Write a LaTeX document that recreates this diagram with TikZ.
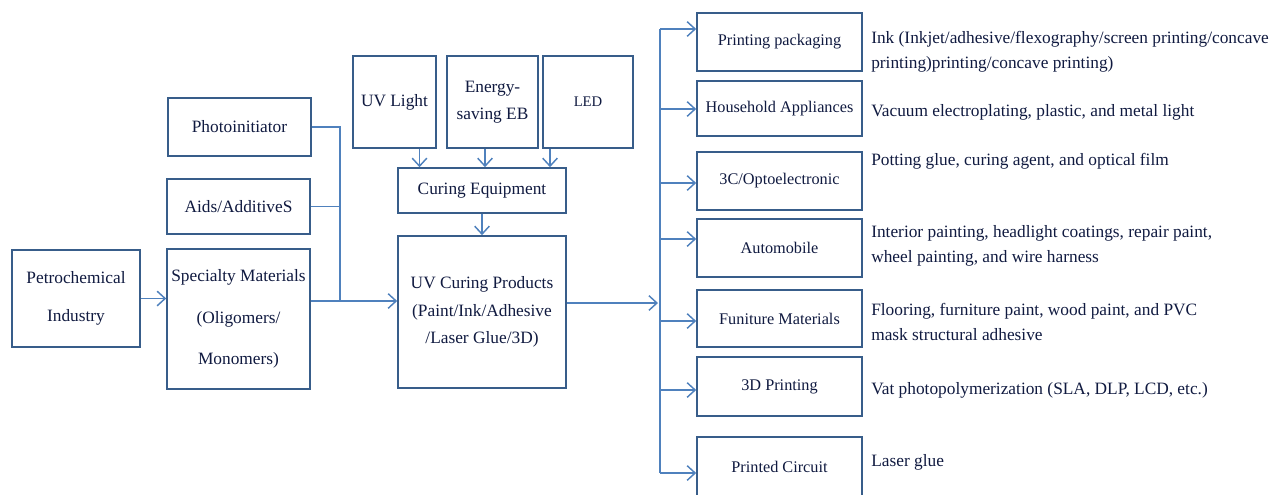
\documentclass[tikz,border=0pt]{standalone}
\usepackage{fontspec}
\setmainfont{Liberation Serif}
\usetikzlibrary{calc,arrows.meta}
\definecolor{boxEdge}{RGB}{56,93,138}
\definecolor{lineBlue}{RGB}{79,129,189}
\definecolor{inkNavy}{RGB}{16,26,64}

\begin{document}
\begin{tikzpicture}[x=0.75pt, y=-0.75pt, >={Straight Barb[length=6pt,width=11pt]},
  box/.style={draw=boxEdge, line width=1.2pt, fill=white, align=center, text=inkNavy,
     inner sep=2pt, font=\fontsize{13}{20.5}\selectfont},
  appbox/.style={box, minimum width=123.75pt, font=\fontsize{12.2}{14}\selectfont},
  usetext/.style={anchor=west, align=left, text=inkNavy, inner sep=0pt,
     font=\fontsize{13}{19}\selectfont},
  flow/.style={->, line width=1.1pt, lineBlue},
  link/.style={line width=1.1pt, lineBlue}]
  \useasboundingbox (0,0) rectangle (1276,494);
  % raw materials
  \node[box, minimum width=96pt, minimum height=72.75pt, font=\fontsize{13}{29}\selectfont]
     (petro) at (76,298.5) {Petrochemical\\Industry};
  \node[box, minimum width=107.25pt, minimum height=43.5pt]  (photo) at (239.5,127) {Photoinitiator};
  \node[box, minimum width=107.25pt, minimum height=41.25pt] (aids)  at (238.5,206.5) {Aids/AdditiveS};
  \node[box, minimum width=107.25pt, minimum height=105pt, font=\fontsize{13}{31}\selectfont]
     (spec) at (238.5,319) {Specialty Materials\\(Oligomers/\\Monomers)};
  % curing
  \node[box, minimum width=62.25pt, minimum height=69pt] (uvl) at (394.5,102) {UV Light};
  \node[box, minimum width=68.25pt, minimum height=69pt] (eeb) at (492.5,102) {Energy-\\saving EB};
  \node[box, minimum width=67.5pt,  minimum height=69pt, font=\fontsize{11}{14}\selectfont]
     (led) at (588,102) {LED};
  \node[box, minimum width=126pt, minimum height=33.75pt] (cureq) at (482,190.5) {Curing Equipment};
  \node[box, minimum width=126pt, minimum height=114pt]   (uvcp)  at (482,312)
     {UV Curing Products\\(Paint/Ink/Adhesive\\/Laser Glue/3D)};
  % applications
  \node[appbox, minimum height=43.5pt]  (pp)      at (779.5,42)    {Printing packaging};
  \node[appbox, minimum height=41.25pt] (ha)      at (779.5,108.5) {Household Appliances};
  \node[appbox, minimum height=43.5pt]  (opto)    at (779.5,181)   {3C/Optoelectronic};
  \node[appbox, minimum height=43.5pt]  (auto)    at (779.5,248)   {Automobile};
  \node[appbox, minimum height=42.75pt] (furn)    at (779.5,318.5) {Funiture Materials};
  \node[appbox, minimum height=44.25pt] (print3d) at (779.5,386.5) {3D Printing};
  \node[appbox, minimum height=44.25pt] (pcb)     at (779.5,466.5) {Printed Circuit};
  \node[usetext] (dpp)  at (871,52)  {Ink (Inkjet/adhesive/flexography/screen printing/concave\\printing)printing/concave printing)};
  \node[usetext] (dha)  at (871,112) {Vacuum electroplating, plastic, and metal light};
  \node[usetext] (dopt) at (871,161) {Potting glue, curing agent, and optical film};
  \node[usetext] (daut) at (871,246) {Interior painting, headlight coatings, repair paint,\\wheel painting, and wire harness};
  \node[usetext] (dfur) at (871,322) {Flooring, furniture paint, wood paint, and PVC\\mask structural adhesive};
  \node[usetext] (d3d)  at (871,390) {Vat photopolymerization (SLA, DLP, LCD, etc.)};
  \node[usetext] (dpcb) at (871,462) {Laser glue};

  \coordinate (jl) at (340,301);
  \coordinate (jr) at (658,303);
  \coordinate (ttop) at (660,29);
  \coordinate (tbot) at (660,473);

  \draw[flow] (petro.east) -- (petro.east -| spec.west);
  \draw[link] (photo.east) -| (jl);
  \draw[link] (aids.east) -- (aids.east -| jl);
  \draw[flow] (spec.east |- jl) -- (uvcp.west |- jl);
  \draw[flow] ($(uvl.south)+(25,0)$) coordinate (uvlfoot) -- (uvlfoot |- cureq.north);
  \draw[flow] ($(eeb.south)+(-7.5,0)$) coordinate (eebfoot) -- (eebfoot |- cureq.north);
  \draw[flow] ($(led.south)+(-38,0)$) coordinate (ledfoot) -- (ledfoot |- cureq.north);
  \draw[flow] (cureq) -- (uvcp);
  \draw[flow] (uvcp.east |- jr) -- (jr);
  \draw[link] (ttop) -- (tbot);
  \foreach \app/\ty in {pp/29,ha/109,opto/183,auto/239,furn/321,print3d/390,pcb/473}
    \draw[flow] (ttop |- 0,\ty) -- (\app.west |- 0,\ty);
\end{tikzpicture}
\end{document}
